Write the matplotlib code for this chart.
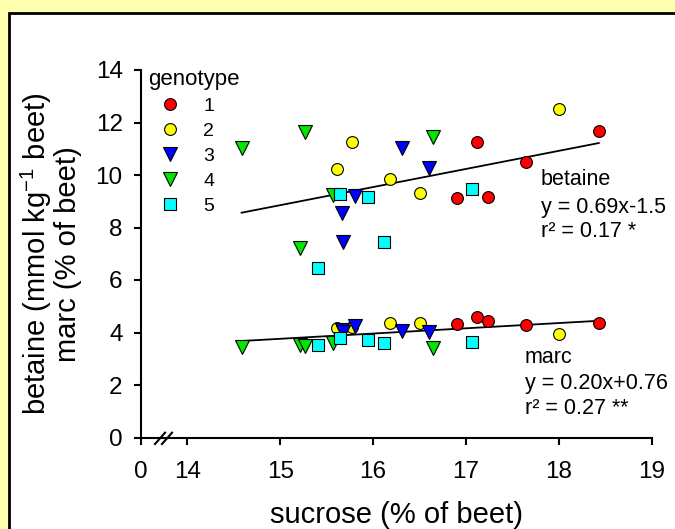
import matplotlib
matplotlib.use("Agg")
import matplotlib.pyplot as plt
from matplotlib.patches import Rectangle
from matplotlib.lines import Line2D
import numpy as np

plt.rcParams['font.family'] = ['Liberation Sans', 'DejaVu Sans']
plt.rcParams['mathtext.fontset'] = 'custom'
plt.rcParams['mathtext.rm'] = 'Liberation Sans'
plt.rcParams['mathtext.it'] = 'Liberation Sans'
plt.rcParams['mathtext.default'] = 'regular'

# ---- data ----
genotypes = ['1', '2', '3', '4', '5']
colors = ['#FF0000', '#FFFF00', '#0000FF', '#00E600', '#00FFFF']
markers = ['o', 'o', 'v', 'v', 's']
msizes = [8.5, 8.5, 9.5, 9.5, 8.0]

sucrose_g1 = [16.90, 17.12, 17.24, 17.65, 18.43]
sucrose_g2 = [15.61, 15.77, 16.18, 16.51, 18.00]
sucrose_g3 = [15.665, 15.68, 15.81, 16.31, 16.60]
sucrose_g4 = [14.585, 15.21, 15.27, 15.565, 16.65]
sucrose_g5 = [15.41, 15.64, 15.95, 16.12, 17.07]

betaine_g1 = [9.14, 11.27, 9.17, 10.48, 11.68]
betaine_g2 = [10.23, 11.26, 9.83, 9.30, 12.53]
betaine_g3 = [8.56, 7.46, 9.20, 11.03, 10.28]
betaine_g4 = [11.02, 7.21, 11.63, 9.24, 11.46]
betaine_g5 = [6.45, 9.28, 9.15, 7.44, 9.48]

marc_g1 = [4.31, 4.60, 4.44, 4.29, 4.37]
marc_g2 = [4.16, 4.22, 4.37, 4.35, 3.93]
marc_g3 = [4.10, 4.02, 4.24, 4.06, 4.01]
marc_g4 = [3.46, 3.52, 3.49, 3.59, 3.42]
marc_g5 = [3.52, 3.78, 3.71, 3.61, 3.65]

betaine_fit = [0.69, -1.5]   # slope, intercept
marc_fit = [0.20, 0.76]

xtick_pos = [13.5, 14, 15, 16, 17, 18, 19]
xtick_labels = ['0', '14', '15', '16', '17', '18', '19']
ytick_pos = [0, 2, 4, 6, 8, 10, 12, 14]

sucrose = [sucrose_g1, sucrose_g2, sucrose_g3, sucrose_g4, sucrose_g5]
betaine = [betaine_g1, betaine_g2, betaine_g3, betaine_g4, betaine_g5]
marc = [marc_g1, marc_g2, marc_g3, marc_g4, marc_g5]

# ---- figure ----
fig = plt.figure(figsize=(6.75, 5.29), dpi=100, facecolor='#FFFFB0')
border = Rectangle((8.5 / 675, -0.05), 1.2, 1 - 12.5 / 529 + 0.05,
                   transform=fig.transFigure, facecolor='white',
                   edgecolor='black', linewidth=2.0, zorder=-10)
fig.patches.append(border)

ax = fig.add_axes([140.8 / 675, 1 - 437.5 / 529, (651.7 - 140.8) / 675,
                   (437.5 - 70) / 529])
ax.set_facecolor('none')
ax.set_zorder(1)

# regression lines
allx = np.concatenate([np.asarray(s) for s in sucrose])
xl = np.array([allx.min(), allx.max()])
for fit in (betaine_fit, marc_fit):
    ax.plot(xl, fit[0] * xl + fit[1], color='black', lw=1.3, zorder=2)

handles = []
for g, c, m, ms, x, b, mc in zip(genotypes, colors, markers, msizes,
                                 sucrose, betaine, marc):
    for yv in (b, mc):
        ax.plot(x, yv, linestyle='none', marker=m, markersize=ms,
                markerfacecolor=c, markeredgecolor='black',
                markeredgewidth=0.8, zorder=3)
    handles.append(Line2D([], [], linestyle='none', marker=m, markersize=ms,
                          markerfacecolor=c, markeredgecolor='black',
                          markeredgewidth=0.8, label=g))

ax.set_xlim(13.5, 19)
ax.set_ylim(0, 14)
ax.set_xticks(xtick_pos)
ax.set_xticklabels(xtick_labels)
ax.set_yticks(ytick_pos)
for s in ('top', 'right'):
    ax.spines[s].set_visible(False)
for s in ('left', 'bottom'):
    ax.spines[s].set_linewidth(1.5)
ax.tick_params(axis='both', direction='out', length=5, width=1.5,
               labelsize=17.5)
ax.tick_params(axis='x', pad=12)
ax.tick_params(axis='y', pad=8)

ax.set_xlabel('sucrose (% of beet)', fontsize=21, labelpad=13)
ax.set_ylabel('betaine (mmol kg$^{-1}$ beet)\nmarc (% of beet)',
              fontsize=21, labelpad=10, linespacing=1.0)

# axis break marks
for dx in (0.0, 0.0137):
    ax.plot([0.0278 + dx, 0.0474 + dx], [-0.0177, 0.0131],
            transform=ax.transAxes, color='black', lw=1.5,
            clip_on=False, zorder=5)

leg = ax.legend(handles=handles, title='genotype', loc='upper left',
                bbox_to_anchor=(0.014, 1.004), frameon=False, fontsize=14,
                title_fontsize=16, handlelength=2.3, handletextpad=0.55,
                labelspacing=0.38, borderpad=0, borderaxespad=0,
                alignment='left')

txt_kw = dict(transform=ax.transAxes, fontsize=15.5, va='center', ha='left')
ax.text(0.783, 0.7007, 'betaine', **txt_kw)
ax.text(0.783, 0.6253, 'y = 0.69x-1.5', **txt_kw)
ax.text(0.783, 0.560, 'r² = 0.17 *', **txt_kw)
ax.text(0.752, 0.218, 'marc', **txt_kw)
ax.text(0.752, 0.1475, 'y = 0.20x+0.76', **txt_kw)
ax.text(0.752, 0.0795, 'r² = 0.27 **', **txt_kw)

fig.savefig('out.png', dpi=100, facecolor=fig.get_facecolor())
